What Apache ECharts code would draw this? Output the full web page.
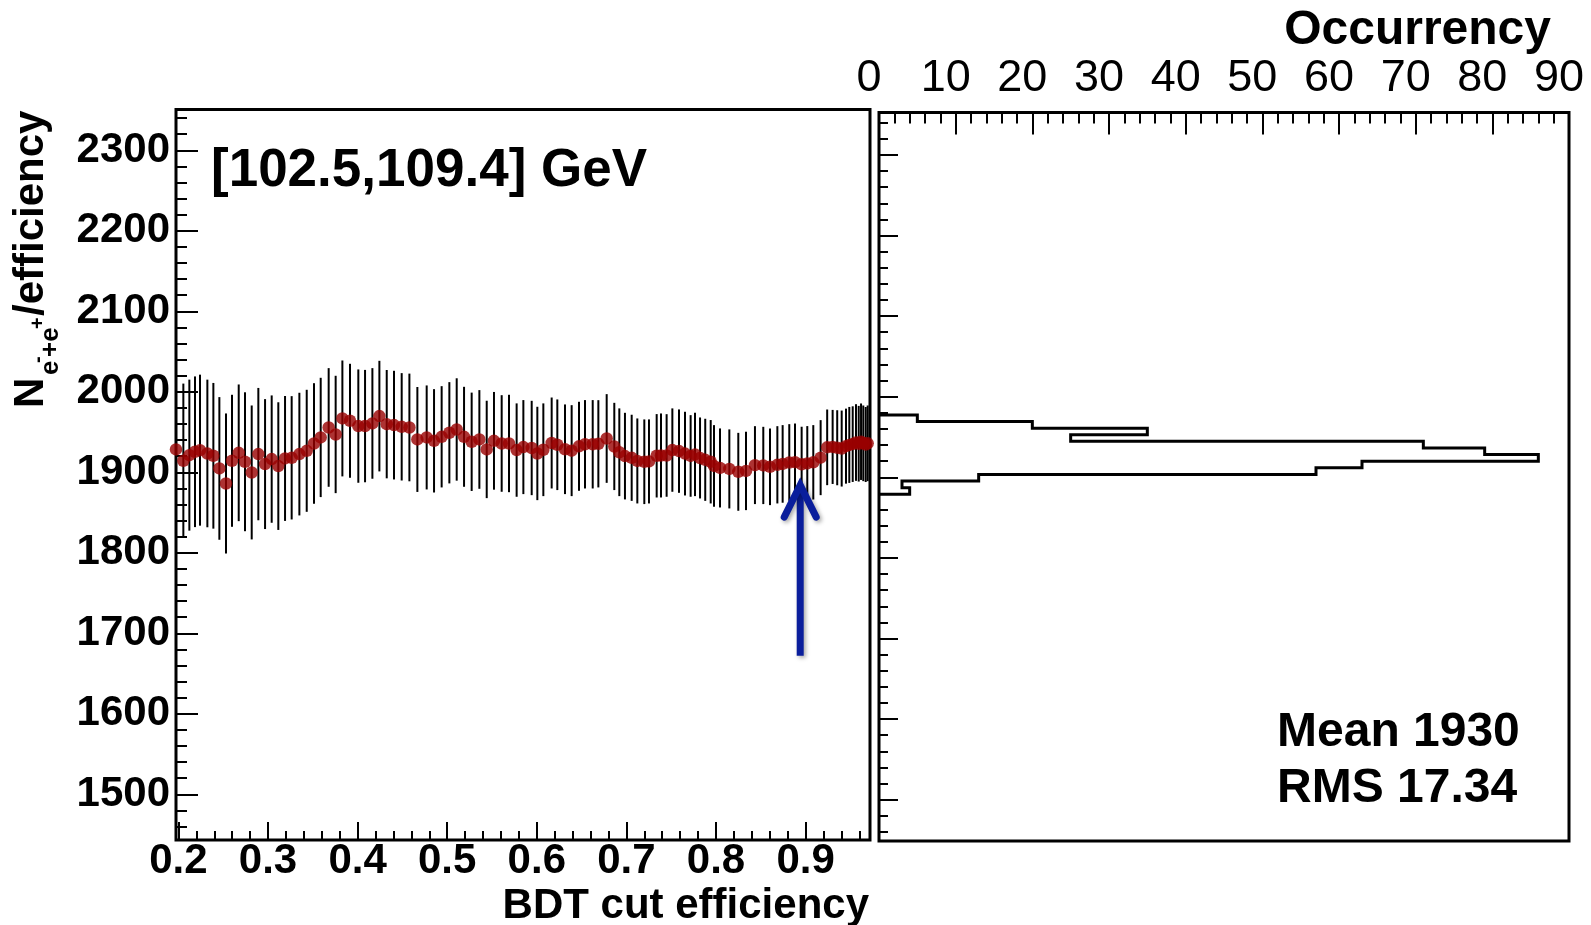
<!DOCTYPE html>
<html>
<head>
<meta charset="utf-8">
<title>BDT cut efficiency scan</title>
<script src="https://cdn.jsdelivr.net/npm/echarts@6/dist/echarts.min.js"></script>
<style>
  html, body { margin: 0; padding: 0; background: #ffffff; }
  #chart { width: 1591px; height: 925px; }
</style>
</head>
<body>
<div id="chart"></div>
<script>
// ---- scan of N(e-e+)/efficiency versus the BDT cut efficiency ----
const efficiency = [
  0.1973, 0.2055, 0.2122, 0.2185, 0.2241, 0.2323, 0.2390, 0.2457, 0.2531, 0.2598,
  0.2673, 0.2743, 0.2818, 0.2892, 0.2967, 0.3041, 0.3115, 0.3190, 0.3264, 0.3350,
  0.3432, 0.3513, 0.3588, 0.3677, 0.3755, 0.3830, 0.3915, 0.4008, 0.4083, 0.4165,
  0.4243, 0.4325, 0.4406, 0.4492, 0.4578, 0.4667, 0.4771, 0.4853, 0.4938, 0.5024,
  0.5106, 0.5188, 0.5273, 0.5359, 0.5441, 0.5522, 0.5608, 0.5690,
  0.5775, 0.5850, 0.5943, 0.6006, 0.6073, 0.6166, 0.6229, 0.6315, 0.6389, 0.6471,
  0.6538, 0.6624, 0.6687, 0.6780, 0.6865, 0.6921, 0.6984, 0.7059, 0.7122, 0.7200,
  0.7252, 0.7338, 0.7386, 0.7449, 0.7513, 0.7587, 0.7654, 0.7717, 0.7766, 0.7822,
  0.7880, 0.7941, 0.7978, 0.8045, 0.8149, 0.8249, 0.8335, 0.8435, 0.8528, 0.8603,
  0.8685, 0.8744, 0.8818, 0.8882, 0.8956, 0.9019, 0.9086, 0.9168,
  0.9241, 0.9302, 0.9353, 0.9403, 0.9451, 0.9488, 0.9526, 0.9563, 0.9593, 0.9619,
  0.9644, 0.9671, 0.9693
];
const yieldPerEff = [
  1928.4, 1914.3, 1921.3, 1925.5, 1927.5, 1923.4, 1920.5, 1904.8, 1886.1, 1914.3,
  1924.2, 1913.1, 1899.8, 1922.6, 1910.2, 1916.4, 1907.7, 1917.2, 1918.0, 1922.6,
  1926.7, 1935.8, 1943.3, 1955.7, 1947.0, 1966.9, 1964.0, 1957.4, 1957.4, 1960.7,
  1969.8, 1959.8, 1958.6, 1956.5, 1955.7, 1940.8, 1943.3, 1939.1, 1944.1, 1949.1,
  1953.2, 1944.1, 1937.9, 1940.8, 1928.4, 1939.1, 1935.8, 1935.8,
  1927.6, 1931.3, 1930.2, 1923.4, 1928.0, 1936.4, 1934.2, 1928.6, 1926.9, 1932.3,
  1934.8, 1934.8, 1935.4, 1942.0, 1932.1, 1924.9, 1920.1, 1918.0, 1914.1, 1913.1,
  1913.5, 1920.5, 1920.9, 1920.9, 1927.6, 1926.3, 1923.2, 1920.3, 1922.2, 1917.8,
  1915.5, 1913.1, 1907.9, 1905.4, 1904.2, 1900.6, 1901.7, 1908.9, 1908.5, 1906.8,
  1909.3, 1910.4, 1912.2, 1912.6, 1910.0, 1911.0, 1912.4, 1918.2,
  1931.0, 1931.5, 1930.5, 1929.5, 1932.5, 1934.0, 1935.0, 1937.0, 1935.5, 1938.0,
  1936.0, 1934.5, 1936.0
];
const yieldErr = [
  97.0, 95.9, 93.8, 93.6, 93.8, 91.7, 90.5, 88.6, 87.0, 82.0,
  84.9, 86.3, 83.2, 82.2, 80.7, 79.1, 79.3, 77.6, 76.6, 76.2,
  75.8, 74.9, 74.1, 73.7, 72.9, 72.0, 70.8, 70.4, 69.8, 68.7,
  68.7, 67.3, 67.5, 66.7, 66.9, 65.2, 64.6, 64.2, 62.9, 62.9,
  63.6, 62.1, 61.1, 61.3, 60.5, 60.7, 60.0, 60.5,
  58.0, 58.4, 58.6, 58.0, 57.6, 56.5, 56.3, 55.7, 56.5, 55.3,
  54.9, 54.9, 54.2, 55.1, 54.2, 54.5, 53.8, 53.5, 52.8, 52.6,
  52.2, 51.8, 52.2, 51.3, 51.8, 51.8, 52.0, 50.7, 51.8, 50.3,
  51.0, 51.8, 50.7, 49.1, 49.1, 48.4, 48.7, 48.4, 48.0, 47.6,
  48.0, 48.2, 47.6, 48.0, 46.6, 46.4, 46.2, 46.6,
  47.0, 46.0, 46.6, 47.2, 46.6, 47.2, 47.0, 47.6, 47.0, 47.5,
  47.0, 46.6, 47.0
];

// ---- distribution of the scan values (horizontal histogram) ----
const occurrencyBinLow = 1879;
const occurrencyBinWidth = 8.2;
const occurrencyCounts = [4, 3, 13, 57, 63, 86, 79, 71, 25, 35, 20, 5];
const statMean = 1930;
const statRms = 17.34;

// ---- tick labels ----
const effTickLabels = [0.2, 0.3, 0.4, 0.5, 0.6, 0.7, 0.8, 0.9];
const yieldTickLabels = [1500, 1600, 1700, 1800, 1900, 2000, 2100, 2200, 2300];
const occTickLabels = [0, 10, 20, 30, 40, 50, 60, 70, 80, 90];

// chosen working point and the marker pointing at it
const chosenEff = 0.894;
const arrowTipValue = 1884;
const arrowTailValue = 1672;

// ---- axis ranges ----
const EFF_MIN = 0.1973, EFF_MAX = 0.9719;
const YL_MIN = 1443.2, YL_MAX = 2350.7;
const YR_MIN = 1448.8, YR_MAX = 2352.6;
const OCC_MIN = 0, OCC_MAX = 90;

function steps(from, to, step) {
  const out = [];
  const n = Math.round((to - from) / step);
  for (let i = 0; i <= n; i++) out.push(+(from + i * step).toFixed(6));
  return out;
}
const effMinor = steps(0.2, 0.96, 0.02);
const yLeftMinor = steps(1460, 2340, 20);
const yRightMinor = steps(1460, 2340, 20);
const occMinor = steps(0, 90, 2);

const FONT = '"Liberation Sans", Arial, Helvetica, sans-serif';
const BLACK = '#000000';

// outline of the histogram, built from the bin edges and counts
const histOutline = [];
{
  let prevEdge = occurrencyBinLow;
  histOutline.push([0, prevEdge]);
  occurrencyCounts.forEach((c, i) => {
    const lo = occurrencyBinLow + i * occurrencyBinWidth;
    const hi = lo + occurrencyBinWidth;
    histOutline.push([c, lo]);
    histOutline.push([c, hi]);
    prevEdge = hi;
  });
  histOutline.push([0, prevEdge]);
}

const scanPoints = efficiency.map((x, i) => [x, yieldPerEff[i], yieldErr[i]]);

function majorAxis(common, tickLen, tickValues, label) {
  return Object.assign({
    type: 'value',
    axisLine: { show: false },
    splitLine: { show: false },
    axisTick: {
      show: true, inside: true, length: tickLen,
      lineStyle: { color: BLACK, width: 2 },
      customValues: tickValues
    },
    axisLabel: label
  }, common);
}
function minorAxis(common, tickLen, tickValues) {
  return Object.assign({
    type: 'value',
    axisLine: { show: false },
    splitLine: { show: false },
    axisTick: {
      show: true, inside: true, length: tickLen,
      lineStyle: { color: BLACK, width: 2 },
      customValues: tickValues
    },
    axisLabel: { show: false }
  }, common);
}

const chart = echarts.init(document.getElementById('chart'), null, { renderer: 'canvas' });

const option = {
  animation: false,
  backgroundColor: '#ffffff',
  grid: [
    { left: 176, top: 109.5, width: 694, height: 730.5, show: true,
      borderColor: BLACK, borderWidth: 3, backgroundColor: 'transparent' },
    { left: 879, top: 112.5, width: 690, height: 728.5, show: true,
      borderColor: BLACK, borderWidth: 3, backgroundColor: 'transparent' }
  ],
  xAxis: [
    majorAxis({ gridIndex: 0, min: EFF_MIN, max: EFF_MAX, position: 'bottom' }, 18, effTickLabels, {
      show: true, customValues: effTickLabels, margin: 0,
      formatter: v => v.toFixed(1),
      color: BLACK, fontFamily: FONT, fontWeight: 'bold', fontSize: 42
    }),
    minorAxis({ gridIndex: 0, min: EFF_MIN, max: EFF_MAX, position: 'bottom' }, 9, effMinor),
    majorAxis({ gridIndex: 1, min: OCC_MIN, max: OCC_MAX, position: 'top' }, 22, occTickLabels, {
      show: true, customValues: occTickLabels, margin: 11,
      padding: [0, 20, 0, 0],
      formatter: v => String(Math.round(v)),
      color: BLACK, fontFamily: FONT, fontWeight: 'normal', fontSize: 45
    }),
    minorAxis({ gridIndex: 1, min: OCC_MIN, max: OCC_MAX, position: 'top' }, 11, occMinor)
  ],
  yAxis: [
    majorAxis({ gridIndex: 0, min: YL_MIN, max: YL_MAX, position: 'left' }, 22, yieldTickLabels, {
      show: true, customValues: yieldTickLabels, margin: 6,
      formatter: v => String(Math.round(v)),
      color: BLACK, fontFamily: FONT, fontWeight: 'bold', fontSize: 42
    }),
    minorAxis({ gridIndex: 0, min: YL_MIN, max: YL_MAX, position: 'left' }, 11, yLeftMinor),
    majorAxis({ gridIndex: 1, min: YR_MIN, max: YR_MAX, position: 'left' }, 19, yieldTickLabels, { show: false }),
    minorAxis({ gridIndex: 1, min: YR_MIN, max: YR_MAX, position: 'left' }, 9, yRightMinor)
  ],
  series: [
    {
      name: 'uncertainty',
      type: 'custom',
      xAxisIndex: 0, yAxisIndex: 0,
      data: scanPoints,
      encode: { x: 0, y: 1 },
      renderItem: function (params, api) {
        const x = api.value(0), y = api.value(1), e = api.value(2);
        const lo = api.coord([x, y - e]);
        const hi = api.coord([x, y + e]);
        return {
          type: 'line',
          shape: { x1: lo[0], y1: lo[1], x2: hi[0], y2: hi[1] },
          style: { stroke: BLACK, lineWidth: 2 }
        };
      },
      z: 3
    },
    {
      name: 'N/efficiency',
      type: 'scatter',
      xAxisIndex: 0, yAxisIndex: 0,
      data: scanPoints.map(p => [p[0], p[1]]),
      symbol: 'circle',
      symbolSize: 12.5,
      itemStyle: { color: '#990000' },
      z: 4
    },
    {
      name: 'occurrency',
      type: 'line',
      xAxisIndex: 2, yAxisIndex: 2,
      data: histOutline,
      symbol: 'none',
      lineStyle: { color: BLACK, width: 3, join: 'miter' },
      clip: false,
      z: 3
    }
  ]
};

chart.setOption(option);

// ---- annotations: marker arrow and texts ----
const tip = chart.convertToPixel({ xAxisIndex: 0, yAxisIndex: 0 }, [chosenEff, arrowTipValue]);
const tail = chart.convertToPixel({ xAxisIndex: 0, yAxisIndex: 0 }, [chosenEff, arrowTailValue]);
const ARROW = '#0a1e9c';
const arrowShadow = { shadowBlur: 4, shadowColor: 'rgba(0,0,0,0.35)', shadowOffsetX: 2, shadowOffsetY: 2 };

function txt(text, x, y, font, align, valign) {
  return {
    type: 'text',
    x: x, y: y,
    style: {
      text: text, x: 0, y: 0, font: font, fill: BLACK,
      textAlign: align, textVerticalAlign: valign, align: align, verticalAlign: valign
    },
    z: 10
  };
}

chart.setOption({
  graphic: [
    {
      type: 'polyline',
      shape: { points: [[tail[0], tail[1]], [tip[0], tip[1] + 4]] },
      style: Object.assign({ stroke: ARROW, lineWidth: 7, lineCap: 'butt', fill: null }, arrowShadow),
      z: 8
    },
    {
      type: 'polyline',
      shape: { points: [[tip[0] - 16, tip[1] + 32], [tip[0], tip[1]], [tip[0] + 16, tip[1] + 32]] },
      style: Object.assign({ stroke: ARROW, lineWidth: 7, lineCap: 'round', lineJoin: 'miter', fill: null }, arrowShadow),
      z: 8
    },
    txt('[102.5,109.4] GeV', 211, 171, 'bold 53px ' + FONT, 'left', 'middle'),
    txt('Mean ' + statMean, 1277, 733, 'bold 48px ' + FONT, 'left', 'middle'),
    txt('RMS ' + statRms.toFixed(2), 1277, 789, 'bold 48px ' + FONT, 'left', 'middle'),
    txt('Occurrency', 1551, 31, 'bold 48px ' + FONT, 'right', 'middle'),
    txt('BDT cut efficiency', 869, 906, 'bold 42px ' + FONT, 'right', 'middle'),
    {
      // rotated y-axis title: N with e^- + e^+ subscript, then /efficiency
      type: 'group',
      x: 46.5, y: 408,
      rotation: Math.PI / 2,
      children: [
        txt('N', 0, -15, 'bold 42px ' + FONT, 'left', 'middle'),
        txt('e', 33, 4, 'bold 26px ' + FONT, 'left', 'middle'),
        txt('-', 45, -8, 'bold 20px ' + FONT, 'left', 'middle'),
        txt('+e', 51, 4, 'bold 26px ' + FONT, 'left', 'middle'),
        txt('+', 79, -8, 'bold 20px ' + FONT, 'left', 'middle'),
        txt('/efficiency', 92, -15, 'bold 42px ' + FONT, 'left', 'middle')
      ]
    }
  ]
});
</script>
</body>
</html>
